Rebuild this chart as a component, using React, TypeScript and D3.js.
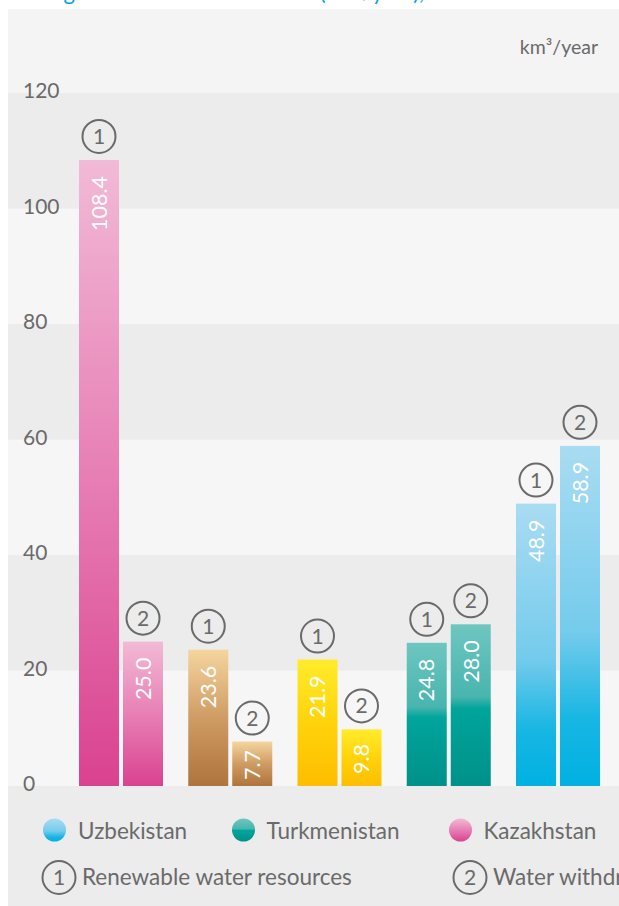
import React from "react";
import * as d3 from "d3";

const countries = ["Kazakhstan", "Kyrgyzstan", "Tajikistan", "Turkmenistan", "Uzbekistan"];
const renewable = [108.4, 23.6, 21.9, 24.8, 48.9];
const withdrawal = [25.0, 7.7, 9.8, 28.0, 58.9];
const seriesKeys = ["1", "2"];
const yTicks = [0, 20, 40, 60, 80, 100, 120];
const legendCountries = ["Uzbekistan", "Turkmenistan", "Kazakhstan"];
const legendSeries = ["Renewable water resources", "Water withdrawal"];
const unitLabel = "km³/year";
const titleText = "Average annual water resources (km³/year), 2010";

const gradients: Record<string, [number, string][]> = {
  Kazakhstan: [[0, "#f2bad6"], [0.5, "#e77fb5"], [1, "#da4290"]],
  Kyrgyzstan: [[0, "#f5d59e"], [0.5, "#cf9c63"], [1, "#ae743d"]],
  Tajikistan: [[0, "#ffec2c"], [0.5, "#ffd30a"], [1, "#fdbd00"]],
  Turkmenistan: [[0, "#6ec6c0"], [0.45, "#48b5ae"], [0.52, "#00a59c"], [1, "#009189"]],
  Uzbekistan: [[0, "#a9dcf2"], [0.55, "#74cbec"], [0.8, "#18b6e3"], [1, "#00b1e2"]],
};

const FONT = "Lato, 'Noto Sans', sans-serif";
const GREY = "#6a6a6a";

export default function App() {
  const W = 619;
  const H = 906;
  const y = d3.scaleLinear().domain([0, 120]).range([786, 93]);
  const x0 = d3.scaleBand<string>().domain(countries).range([79, 600]).paddingInner(0.231).paddingOuter(0);
  const x1 = d3.scaleBand<string>().domain(seriesKeys).range([0, x0.bandwidth()]).paddingInner(4 / 44).paddingOuter(0);
  const fmt = d3.format(".1f");

  const bands = d3.range(0, yTicks.length - 1).map((i) => ({
    lo: yTicks[i],
    hi: yTicks[i + 1],
    dark: i % 2 === 1,
  }));

  const estLen = (s: string) => {
    let l = 0;
    for (const c of s) l += c === "." ? 5 : 11.2;
    return l;
  };

  return (
    <svg width={W} height={H} style={{ position: "absolute", left: 0, top: 0 }} fontFamily={FONT}>
      <defs>
        {countries.map((c) => (
          <linearGradient key={c} id={`g-${c}`} x1="0" y1="0" x2="0" y2="1">
            {gradients[c].map(([o, col], i) => (
              <stop key={i} offset={o} stopColor={col} />
            ))}
          </linearGradient>
        ))}
      </defs>
      <rect x={0} y={0} width={W} height={H} fill="#ffffff" />
      <text x={8} y={0} fontSize={22} fill="#00a3dd">{titleText}</text>
      <rect x={8} y={9} width={W - 8} height={H - 9} fill="#f4f4f4" />
      {bands.map((b, i) => (
        <rect key={i} x={8} y={y(b.hi)} width={W - 8} height={y(b.lo) - y(b.hi)} fill={b.dark ? "#ececec" : "#f6f6f6"} />
      ))}
      <rect x={8} y={y(0)} width={W - 8} height={H - y(0)} fill="#ececec" />
      {yTicks.map((t) => (
        <text key={t} x={23} y={y(t) + 5} fontSize={21} fill={GREY}>{t}</text>
      ))}
      <text x={598} y={54} fontSize={19.5} fill={GREY} textAnchor="end">{unitLabel}</text>
      {countries.map((c, ci) => {
        const vals = [renewable[ci], withdrawal[ci]];
        return (
          <g key={c} transform={`translate(${x0(c)},0)`}>
            {seriesKeys.map((k, si) => {
              const v = vals[si];
              const bx = x1(k)!;
              const bw = x1.bandwidth();
              const top = y(v);
              const h = y(0) - top;
              const lab = fmt(v);
              const off = Math.min(16, (h - estLen(lab)) / 2);
              const cx = bx + bw / 2;
              return (
                <g key={k}>
                  <rect x={bx} y={top} width={bw} height={h} fill={`url(#g-${c})`} />
                  <text
                    transform={`translate(${cx},${top + off}) rotate(-90)`}
                    textAnchor="end"
                    dy="0.36em"
                    fontSize={21.5}
                    fill="#ffffff"
                  >
                    {lab}
                  </text>
                  <circle cx={cx} cy={top - 23.5} r={16.5} fill="none" stroke={GREY} strokeWidth={2} />
                  <text x={cx} y={top - 23.5} dy="0.36em" textAnchor="middle" fontSize={21} fill={GREY}>{k}</text>
                </g>
              );
            })}
          </g>
        );
      })}
      {legendCountries.map((c, i) => {
        const cxs = [54.5, 243.5, 460.5];
        const txs = [78, 266.5, 483.5];
        return (
          <g key={c}>
            <circle cx={cxs[i]} cy={830} r={11.5} fill={`url(#g-${c})`} />
            <text x={txs[i]} y={839} fontSize={22.5} fill={GREY}>{c}</text>
          </g>
        );
      })}
      {legendSeries.map((s, i) => {
        const cxs = [59, 470];
        return (
          <g key={s}>
            <circle cx={cxs[i]} cy={877.5} r={16.5} fill="none" stroke={GREY} strokeWidth={2} />
            <text x={cxs[i]} y={877.5} dy="0.36em" textAnchor="middle" fontSize={21} fill={GREY}>{seriesKeys[i]}</text>
            <text x={cxs[i] + 23} y={885} fontSize={22.5} fill={GREY}>{s}</text>
          </g>
        );
      })}
    </svg>
  );
}
